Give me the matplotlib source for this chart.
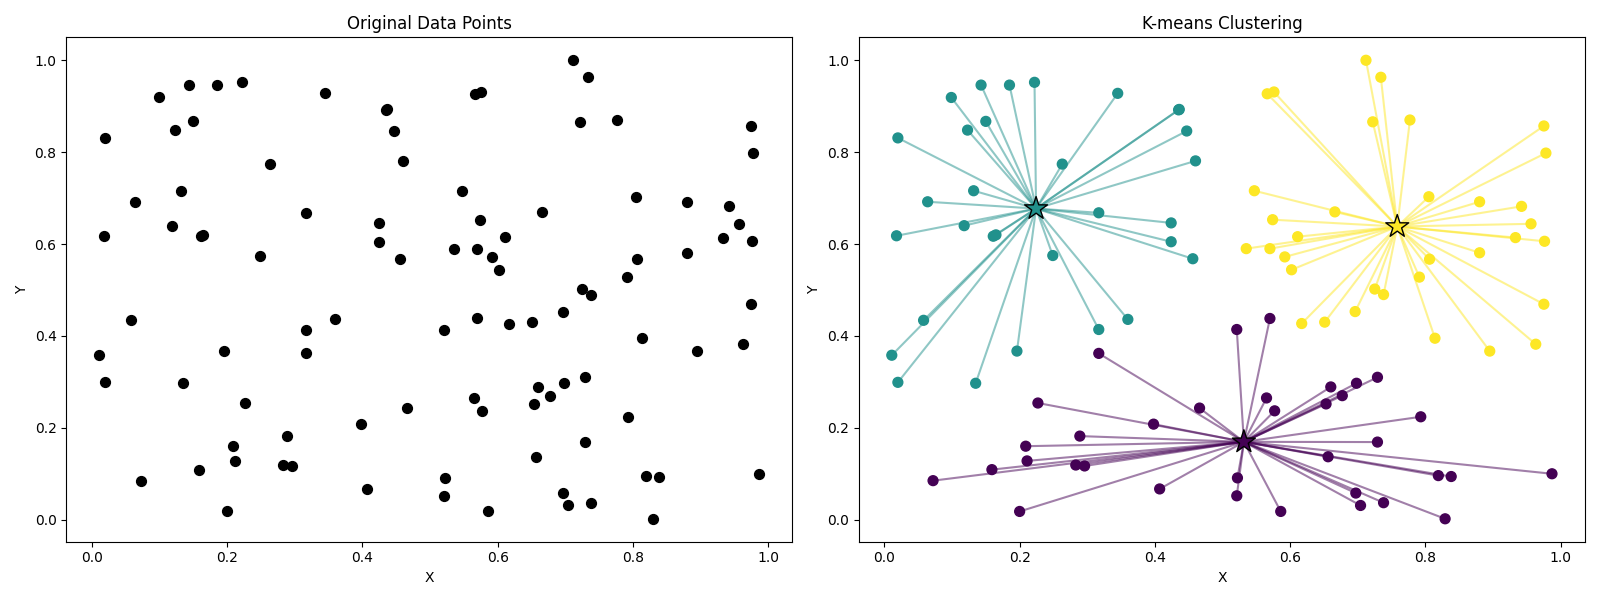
import numpy as np
import matplotlib
matplotlib.use('Agg')
import matplotlib.pyplot as plt

# point coordinates, grouped by cluster
# cluster 1 (teal, upper left)
x_teal = [0.020, 0.018, 0.099, 0.143, 0.185, 0.222, 0.123, 0.150, 0.263, 0.132,
          0.064, 0.118, 0.161, 0.165, 0.249, 0.317, 0.345, 0.435, 0.436, 0.447,
          0.460, 0.424, 0.424, 0.456, 0.058, 0.011, 0.020, 0.135, 0.196, 0.317,
          0.360]
y_teal = [0.831, 0.618, 0.919, 0.946, 0.946, 0.952, 0.848, 0.867, 0.774, 0.716,
          0.692, 0.640, 0.617, 0.620, 0.575, 0.668, 0.928, 0.892, 0.893, 0.846,
          0.781, 0.646, 0.605, 0.568, 0.434, 0.358, 0.299, 0.297, 0.367, 0.414,
          0.436]

# cluster 2 (yellow, upper right)
x_yellow = [0.712, 0.734, 0.722, 0.777, 0.975, 0.978, 0.566, 0.576, 0.547, 0.666,
            0.574, 0.611, 0.535, 0.570, 0.592, 0.602, 0.805, 0.880, 0.942, 0.956,
            0.933, 0.976, 0.880, 0.806, 0.791, 0.725, 0.738, 0.975, 0.814, 0.895,
            0.963, 0.617, 0.651, 0.696]
y_yellow = [1.000, 0.963, 0.866, 0.870, 0.857, 0.798, 0.927, 0.931, 0.716, 0.670,
            0.653, 0.616, 0.590, 0.590, 0.572, 0.544, 0.703, 0.692, 0.682, 0.644,
            0.614, 0.606, 0.581, 0.567, 0.528, 0.502, 0.490, 0.469, 0.395, 0.367,
            0.382, 0.427, 0.430, 0.453]

# cluster 0 (purple, bottom)
x_purple = [0.317, 0.227, 0.209, 0.211, 0.159, 0.072, 0.200, 0.289, 0.283, 0.296,
            0.521, 0.570, 0.466, 0.398, 0.565, 0.577, 0.660, 0.677, 0.653, 0.656,
            0.522, 0.521, 0.407, 0.586, 0.697, 0.729, 0.698, 0.793, 0.729, 0.819,
            0.838, 0.987, 0.704, 0.738, 0.829]
y_purple = [0.362, 0.254, 0.160, 0.128, 0.109, 0.085, 0.018, 0.182, 0.119, 0.117,
            0.414, 0.438, 0.243, 0.208, 0.265, 0.237, 0.289, 0.270, 0.252, 0.137,
            0.091, 0.052, 0.067, 0.018, 0.058, 0.310, 0.297, 0.224, 0.169, 0.096,
            0.094, 0.100, 0.031, 0.037, 0.002]

X = np.column_stack([x_purple + x_teal + x_yellow, y_purple + y_teal + y_yellow])
labels = np.array([0] * len(x_purple) + [1] * len(x_teal) + [2] * len(x_yellow))
n_clusters = 3

# centroids = mean of each cluster
centers = np.array([X[labels == k].mean(axis=0) for k in range(n_clusters)])

cmap = plt.get_cmap('viridis')
colors = [cmap(k / (n_clusters - 1)) for k in range(n_clusters)]

fig, (ax1, ax2) = plt.subplots(1, 2, figsize=(16, 6), dpi=100)

ax1.scatter(X[:, 0], X[:, 1], c='black', s=50)
ax1.set_title('Original Data Points')
ax1.set_xlabel('X')
ax1.set_ylabel('Y')

# lines from each point to its centroid
for p, k in zip(X, labels):
    ax2.plot([centers[k, 0], p[0]], [centers[k, 1], p[1]],
             color=colors[k], alpha=0.5)

ax2.scatter(X[:, 0], X[:, 1], c=labels, cmap='viridis', s=50, zorder=3)
ax2.scatter(centers[:, 0], centers[:, 1], c=range(n_clusters), cmap='viridis',
            marker='*', s=300, edgecolors='black', zorder=4)
ax2.set_title('K-means Clustering')
ax2.set_xlabel('X')
ax2.set_ylabel('Y')

plt.tight_layout()
plt.savefig('out.png')
